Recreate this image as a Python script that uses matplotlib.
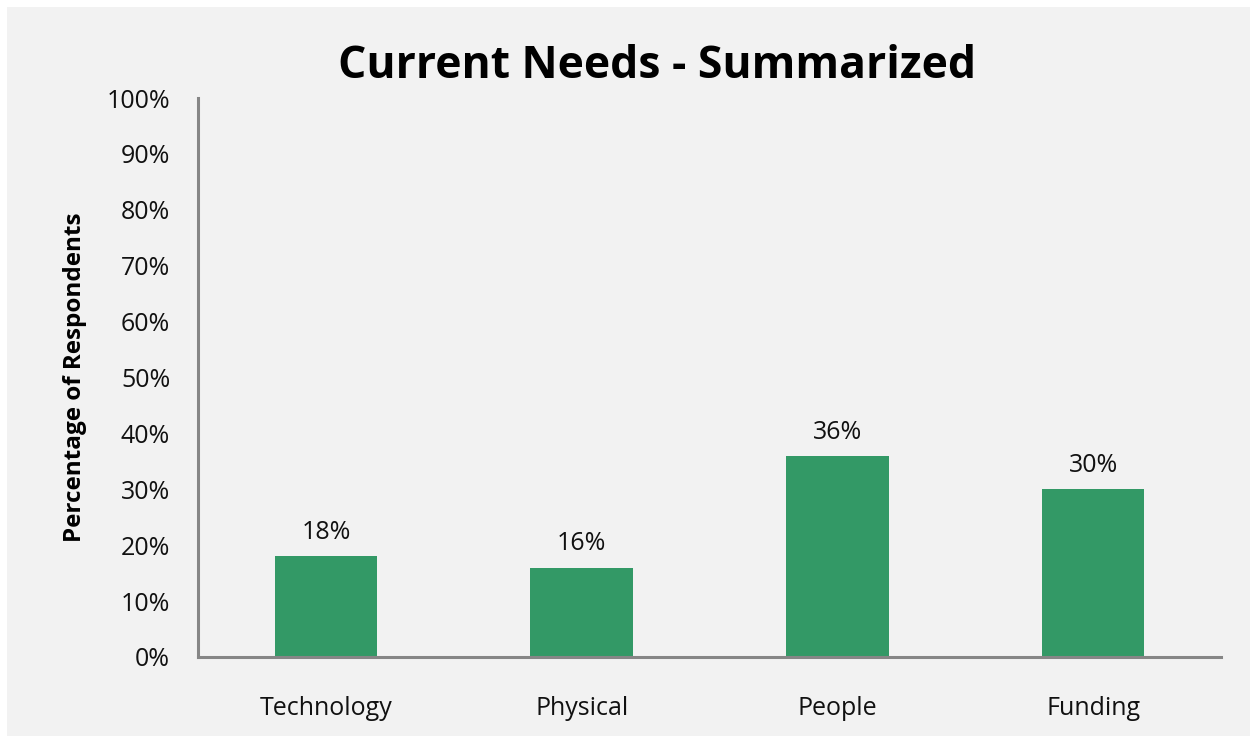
import matplotlib
matplotlib.use("Agg")
import matplotlib.pyplot as plt
from matplotlib.patches import Rectangle
import numpy as np

categories = ["Technology", "Physical", "People", "Funding"]
values = [18, 16, 36, 30]
yticks = [0, 10, 20, 30, 40, 50, 60, 70, 80, 90, 100]

plt.rcParams['font.family'] = ['Open Sans', 'DejaVu Sans']

W, H = 1250, 736
fig = plt.figure(figsize=(W/100, H/100), dpi=100, facecolor="white")
# gray panel with a thin white strip at the top and left
fig.patches.append(Rectangle((7/W, 0), 1 - 7/W, 1 - 7/H, transform=fig.transFigure,
                             facecolor="#f2f2f2", edgecolor="none", zorder=-1))

ax = fig.add_axes([198/W, 1 - 657/H, (1221 - 198)/W, (657 - 98)/H])
ax.set_facecolor("none")

fs = 18
x = np.arange(len(categories))
ax.bar(x, values, width=0.4, color="#339966", zorder=2)
for xi, v in zip(x, values):
    ax.text(xi, v + 2.0, f"{v}%", ha="center", va="bottom", fontsize=fs, color="#111111")

ax.set_xlim(-0.5, len(categories) - 0.5)
ax.set_ylim(0, 100)
ax.set_yticks(yticks)
ax.set_yticklabels([f"{t}%" for t in yticks], fontsize=fs, color="#111111")
ax.set_xticks(x)
ax.set_xticklabels(categories, fontsize=fs, color="#111111")
ax.tick_params(axis="y", length=0, pad=20)
ax.tick_params(axis="x", length=0, pad=28)

for side in ["top", "right"]:
    ax.spines[side].set_visible(False)
for side in ["left", "bottom"]:
    ax.spines[side].set_color("#868686")
    ax.spines[side].set_linewidth(2.2)

ax.set_ylabel("Percentage of Respondents", fontsize=17.5, fontweight="bold", labelpad=14)
fig.text(657/W, 1 - 66/H, "Current Needs - Summarized", ha="center", va="center",
         fontsize=32, fontweight="bold", color="black")

fig.savefig("out.png", dpi=100, facecolor=fig.get_facecolor())
